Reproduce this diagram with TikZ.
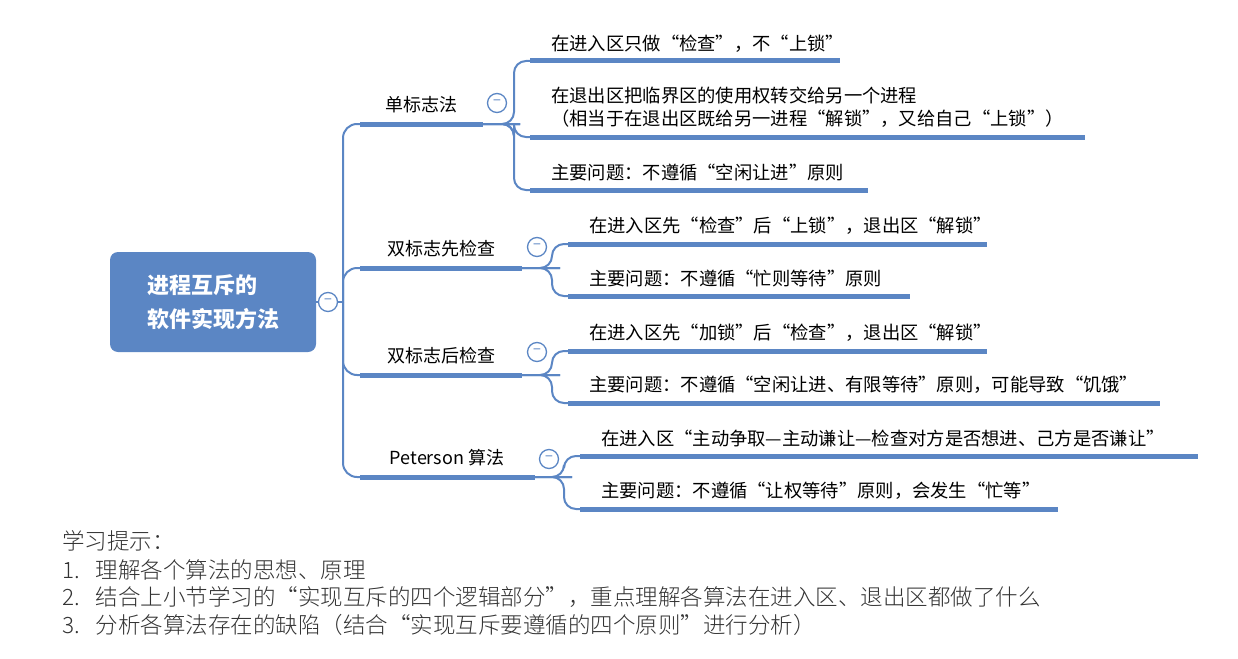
\documentclass[tikz,border=0pt]{standalone}
\usepackage{fontspec}
\setmainfont{Noto Sans CJK SC}
\newfontfamily\cjkser{Noto Sans CJK SC Light}
\usetikzlibrary{positioning}
\definecolor{mapblue}{HTML}{5B86C4}
\definecolor{tipgray}{HTML}{333333}
\tikzset{
  leaf/.style={anchor=south west,inner sep=5pt,font=\fontsize{18.3}{23}\selectfont},
  branch/.style={anchor=south,inner sep=5pt,font=\fontsize{18}{20}\selectfont},
  uline/.style={mapblue,line width=5pt},
  link/.style={mapblue,line width=2pt,rounded corners=14pt},
  fold/.style={circle,draw=mapblue,fill=white,line width=1.3pt,minimum size=19pt,inner sep=0pt,
    font=\fontsize{14}{14}\selectfont,text=mapblue},
  tip/.style={anchor=west,inner sep=0pt,text=tipgray,font=\fontsize{22.5}{24}\selectfont}
}
\begin{document}
\begin{tikzpicture}[x=1pt,y=-1pt]
\useasboundingbox (0,0) rectangle (1238,658);
% root
\node[fill=mapblue,rounded corners=8pt,minimum width=206pt,minimum height=100pt,text=white,
  align=left,font=\bfseries\fontsize{22}{34}\selectfont] (root) at (213,302) {进程互斥的\\软件实现方法};
\coordinate (trunk) at (343,302);
% branch lines
\foreach \n/\y/\xe in {b1/124/483,b2/268/522,b3/375/522,b4/477/535}
  \draw[uline] (360,\y) coordinate (\n s) -- (\xe,\y) coordinate (\n e);
\node[branch] (t1) at (421,118) {单标志法};
\node[branch] (t2) at (441,262) {双标志先检查};
\node[branch] (t3) at (441,369) {双标志后检查};
\node[branch] (t4) at (447,471) {Peterson 算法};
% trunk
\draw[link] (root.east) -- (trunk);
\foreach \n in {b1,b2,b3,b4}
  \draw[link] (trunk) |- (\n s);
\node[fold] (f0) at (328,302) {−};
% leaves
\foreach \n/\y/\xs/\xe in {c1/61/530/840,c2/137/530/1085,c3/190/530/868,
  c4/244/568/987,c5/296/568/910,c6/351/568/987,c7/403/568/1160,c8/456/580/1198,c9/509/580/1058}
  \draw[uline] (\xs,\y) coordinate (\n s) -- (\xe,\y);
\foreach \b/\c/\fx in {b1/c1/508,b1/c2/508,b1/c3/508,b2/c4/548,b2/c5/548,b3/c6/548,b3/c7/548,b4/c8/560,b4/c9/560}
  \draw[link,rounded corners=12pt] (\b e) -- (\fx,0|-\b e) -| ([xshift=-16pt]\c s) -- (\c s);
\node[fold] (f1) at (497,103) {−};
\node[fold] (f2) at (537,247) {−};
\node[fold] (f3) at (537,352) {−};
\node[fold] (f4) at (549,459) {−};
\node[leaf] (l1) at (546,58) {在进入区只做“检查”，不“上锁”};
\node[leaf,align=left] (l2) at (546,133) {在退出区把临界区的使用权转交给另一个进程\\ （相当于在退出区既给另一进程“解锁”，又给自己“上锁”）};
\node[leaf] (l3) at (546,186) {主要问题：不遵循“空闲让进”原则};
\node[leaf] (l4) at (584,240) {在进入区先“检查”后“上锁”，退出区“解锁”};
\node[leaf] (l5) at (584,292) {主要问题：不遵循“忙则等待”原则};
\node[leaf] (l6) at (584,347) {在进入区先“加锁”后“检查”，退出区“解锁”};
\node[leaf] (l7) at (584,399) {主要问题：不遵循“空闲让进、有限等待”原则，可能导致“饥饿”};
\node[leaf] (l8) at (596,452) {在进入区“主动争取—主动谦让—检查对方是否想进、己方是否谦让”};
\node[leaf] (l9) at (596,505) {主要问题：不遵循“让权等待”原则，会发生“忙等”};
% tips
\node[tip] (h0) at (62,541) {\cjkser 学习提示：};
\node[tip] (h1) at (62,570) {\cjkser 1.\hspace{16pt}理解各个算法的思想、原理};
\node[tip] (h2) at (62,597) {\cjkser 2.\hspace{16pt}结合上小节学习的“实现互斥的四个逻辑部分”，重点理解各算法在进入区、退出区都做了什么};
\node[tip] (h3) at (62,625) {\cjkser 3.\hspace{16pt}分析各算法存在的缺陷（结合“实现互斥要遵循的四个原则”进行分析）};
\end{tikzpicture}
\end{document}
